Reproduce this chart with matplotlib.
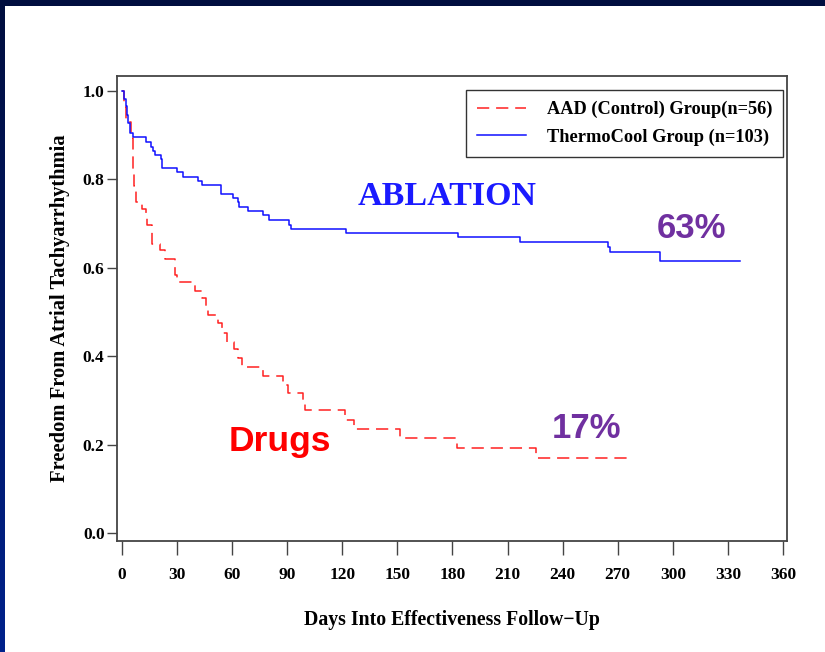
import numpy as np
import matplotlib
matplotlib.use("Agg")
import matplotlib.pyplot as plt
from matplotlib.patches import Rectangle

# Kaplan-Meier step points (day, survival)
aad_days = [0, 1.0, 2.0, 4.7, 5.8, 6.7, 7.6, 10.7, 13.0, 13.9, 16.5, 20.7, 23.4,
            28.8, 29.8, 40.0, 43.5, 46.0, 47.0, 52.5, 54.5, 57.0, 61.0, 63.0,
            65.2, 77.0, 87.8, 90.7, 98.7, 99.5, 121.4, 126.5, 151.7, 182.5,
            225.4, 276.5]
aad_surv = [1.0, 0.964, 0.929, 0.893, 0.821, 0.786, 0.750, 0.732, 0.714, 0.696,
            0.655, 0.640, 0.621, 0.584, 0.567, 0.548, 0.531, 0.512, 0.493, 0.476,
            0.453, 0.433, 0.416, 0.396, 0.375, 0.356, 0.335, 0.317, 0.296, 0.278,
            0.256, 0.235, 0.214, 0.193, 0.169, 0.169]

tc_days = [0, 1.0, 2.0, 2.8, 3.2, 4.5, 6.0, 12.9, 15.9, 17.0, 18.0, 21.0, 22.0,
           29.8, 33.0, 41.5, 43.7, 53.7, 60.6, 63.0, 63.9, 68.8, 77.0, 80.0,
           91.0, 92.0, 121.8, 183.0, 216.7, 264.7, 266.0, 292.9, 336.4]
tc_surv = [1.0, 0.983, 0.965, 0.946, 0.927, 0.904, 0.895, 0.884, 0.874, 0.865,
           0.855, 0.846, 0.825, 0.816, 0.806, 0.796, 0.787, 0.768, 0.759, 0.749,
           0.738, 0.728, 0.719, 0.708, 0.698, 0.688, 0.679, 0.669, 0.658, 0.648,
           0.636, 0.615, 0.615]

x_ticks = list(range(0, 361, 30))
y_ticks = [0.0, 0.2, 0.4, 0.6, 0.8, 1.0]

serif = ["Liberation Serif", "DejaVu Serif"]
sans = ["Liberation Sans", "DejaVu Sans"]

fig = plt.figure(figsize=(8.25, 6.52), dpi=100)
fig.patch.set_facecolor("white")

# slide border: navy band on top, gradient strip on the left
fig.patches.append(Rectangle((0, 1 - 6 / 652), 1, 6 / 652, transform=fig.transFigure,
                             facecolor="#000e3f", edgecolor="none", zorder=5))
strip = fig.add_axes([0, 0, 4.5 / 825, 1 - 6 / 652])
grad = np.linspace(0, 1, 256).reshape(-1, 1)
cmap = matplotlib.colors.LinearSegmentedColormap.from_list("b", ["#00228c", "#000e3f"])
strip.imshow(grad, aspect="auto", cmap=cmap, origin="lower")
strip.axis("off")

ax = fig.add_axes([117 / 825, 1 - 541 / 652, 670 / 825, 465 / 652])
ax.step(aad_days, aad_surv, where="post", color="#ff2020", lw=1.1,
        dashes=(8, 4.5), label="AAD (Control) Group(n=56)")
ax.step(tc_days, tc_surv, where="post", color="#1010ff", lw=1.1,
        label="ThermoCool Group (n=103)")

ax.set_xlim(-2.7, 362.2)
ax.set_ylim(-0.018, 1.034)
ax.set_xticks(x_ticks)
ax.set_yticks(y_ticks)
ax.set_yticklabels([f"{v:.1f}" for v in y_ticks])
ax.tick_params(axis="x", length=10, width=1, pad=9, color="#444444")
ax.tick_params(axis="y", length=7, width=1, pad=2, color="#444444")
for lab in ax.get_xticklabels() + ax.get_yticklabels():
    lab.set_family(serif)
    lab.set_fontweight("bold")
    lab.set_fontsize(12.5)
for s in ax.spines.values():
    s.set_color("#444444")
    s.set_linewidth(1.3)

ax.set_xlabel("Days Into Effectiveness Follow\u2212Up", family=serif, fontweight="bold",
              fontsize=14.2, labelpad=19)
ax.set_ylabel("Freedom From Atrial Tachyarrhythmia", family=serif, fontweight="bold",
              fontsize=14.8, labelpad=9)

leg = ax.legend(loc="upper right", bbox_to_anchor=(0.994, 0.970), borderaxespad=0,
                fancybox=False, edgecolor="black", handlelength=2.7,
                handletextpad=1.1, borderpad=0.6, labelspacing=0.55,
                prop={"family": serif, "weight": "bold", "size": 13.2})
leg.get_frame().set_linewidth(1.0)

ax.text(0.492, 0.74, "ABLATION", transform=ax.transAxes, ha="center", va="center",
        color="#1a1aff", fontsize=24.5, fontweight="heavy", family=serif)
ax.text(0.857, 0.672, "63%", transform=ax.transAxes, ha="center", va="center",
        color="#7030a0", fontsize=25, fontweight="bold", family=sans)
ax.text(0.700, 0.243, "17%", transform=ax.transAxes, ha="center", va="center",
        color="#7030a0", fontsize=25, fontweight="bold", family=sans)
ax.text(0.243, 0.215, "Drugs", transform=ax.transAxes, ha="center", va="center",
        color="#ff0000", fontsize=25.5, fontweight="bold", family=sans)

fig.savefig("out.png", dpi=100)
